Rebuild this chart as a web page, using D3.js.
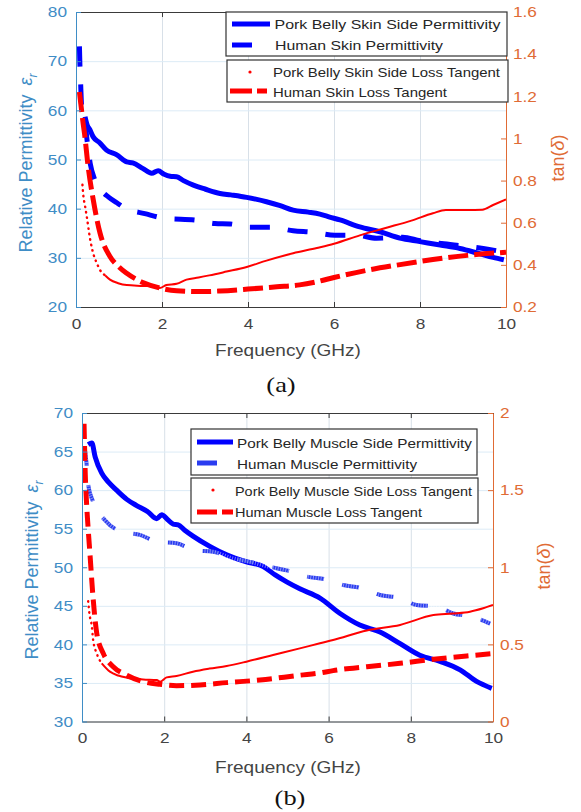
<!DOCTYPE html>
<html>
<head>
<meta charset="utf-8">
<script src="https://cdn.jsdelivr.net/npm/d3@7"></script>
<style>
  body { margin: 0; background: #fff; }
  svg { display: block; }
  text { font-family: "Liberation Sans", Arial, sans-serif; }
</style>
</head>
<body>
<script>
// ---- data ----
const xTicks = [0, 2, 4, 6, 8, 10];

const skinPermTicks = [20, 30, 40, 50, 60, 70, 80];
const skinTanTicks = [0.2, 0.4, 0.6, 0.8, 1, 1.2, 1.4, 1.6];
const muscPermTicks = [30, 35, 40, 45, 50, 55, 60, 65, 70];
const muscTanTicks = [0, 0.5, 1, 1.5, 2];

const skinLegend = ["Pork Belly Skin Side Permittivity", "Human Skin Permittivity",
                    "Pork Belly Skin Side Loss Tangent", "Human Skin Loss Tangent"];
const muscLegend = ["Pork Belly Muscle Side Permittivity", "Human Muscle Permittivity",
                    "Pork Belly Muscle Side Loss Tangent", "Human Muscle Loss Tangent"];

// (a) skin
const skinPorkPerm = [[0.21,58.7],[0.26,57.0],[0.32,56.1],[0.4,54.6],[0.55,53.4],[0.71,51.9],[0.94,51.0],
  [1.18,49.5],[1.32,49.3],[1.55,48.2],[1.76,47.2],[1.91,47.7],[2.05,47.0],[2.19,46.6],[2.34,46.5],[2.5,45.7],
  [2.73,44.8],[3.0,44.0],[3.35,43.1],[3.6,42.8],[3.97,42.3],[4.43,41.4],[4.75,40.6],[5.05,39.7],[5.4,39.3],
  [5.67,38.9],[5.9,38.3],[6.14,37.7],[6.6,36.3],[7.07,35.3],[7.53,34.0],[8.0,33.3],[8.47,32.6],[8.93,31.9],
  [9.4,30.8],[9.7,30.1],[9.95,29.6]];
const skinHumanPerm = [[0.08,73],[0.09,69.5],[0.11,65],[0.13,61],[0.2,58.5],[0.26,53.7],[0.33,49.2],[0.44,45.8],
  [0.6,43.6],[0.75,42.4],[0.95,41.2],[1.14,40.1],[1.6,39.0],[2.1,38.0],[2.77,37.7],[3.23,37.0],[3.58,36.9],
  [4.05,36.2],[4.55,36.2],[5.05,35.5],[5.5,35.2],[6.02,34.6],[6.52,34.6],[6.99,34.0],[7.6,34.2],[8.0,33.5],
  [8.5,32.9],[9.0,32.4],[9.47,31.9],[9.94,31.2]];
const skinPorkTan = [[0.15,0.78],[0.17,0.73],[0.21,0.68],[0.25,0.63],[0.33,0.52],[0.4,0.455],[0.48,0.41],
  [0.56,0.375],[0.68,0.35],[0.79,0.33],[0.98,0.313],[1.18,0.304],[1.57,0.30],[1.8,0.297],[1.95,0.29],[2.1,0.304],
  [2.34,0.31],[2.57,0.33],[2.85,0.34],[3.1,0.35],[3.5,0.368],[3.97,0.39],[4.43,0.42],[5.05,0.455],[5.6,0.48],
  [6.0,0.50],[6.6,0.54],[7.2,0.575],[7.8,0.61],[8.3,0.645],[8.6,0.66],[9.1,0.66],[9.45,0.662],[9.7,0.684],[10,0.71]];
const skinHumanTan = [[0.08,1.22],[0.12,1.15],[0.16,1.08],[0.2,1.02],[0.28,0.87],[0.4,0.71],[0.56,0.55],
  [0.79,0.44],[1.0,0.39],[1.18,0.36],[1.57,0.315],[1.95,0.29],[2.34,0.277],[2.9,0.273],[3.35,0.276],[4.0,0.285],
  [4.67,0.296],[5.2,0.305],[5.6,0.32],[6.0,0.34],[6.76,0.374],[7.5,0.40],[8.3,0.425],[9.1,0.445],[10,0.46]];

// (b) muscle
const muscPorkPerm = [[0.15,65.9],[0.24,66.1],[0.32,64.3],[0.48,62.2],[0.65,61.0],[0.84,60.0],[1.09,58.8],
  [1.33,58.0],[1.6,57.2],[1.82,56.3],[1.94,56.8],[2.08,56.2],[2.22,55.6],[2.34,55.5],[2.5,54.8],[2.71,54.0],
  [3.11,52.7],[3.52,51.6],[4.0,50.7],[4.41,50.1],[4.7,49.0],[4.98,48.1],[5.3,47.2],[5.79,46.0],[6.28,44.0],
  [6.76,42.5],[7.25,41.6],[7.74,40.1],[8.22,38.6],[8.71,37.8],[9.2,36.7],[9.6,35.2],[9.97,34.3]];
const muscHumanPerm = [[0.07,65.3],[0.11,63.5],[0.15,60.7],[0.27,58.5],[0.56,56.1],[0.97,54.6],[1.41,54.2],
  [1.82,53.3],[2.3,53.1],[2.75,52.2],[3.19,52.0],[3.64,51.2],[4.09,50.7],[4.53,50.1],[4.98,49.6],[5.47,48.8],
  [5.95,48.4],[6.36,47.7],[6.8,47.3],[7.25,46.4],[7.74,46.0],[8.14,45.1],[8.63,44.9],[9.03,44.0],[9.48,43.6],
  [9.93,42.7]];
const muscPorkTan = [[0.15,0.78],[0.18,0.70],[0.24,0.615],[0.27,0.53],[0.36,0.44],[0.48,0.377],[0.68,0.323],
  [0.88,0.298],[1.09,0.284],[1.49,0.273],[1.82,0.269],[1.9,0.258],[2.06,0.286],[2.3,0.295],[2.7,0.323],
  [3.1,0.343],[3.52,0.36],[4.0,0.388],[4.65,0.431],[5.3,0.474],[5.79,0.507],[6.11,0.528],[6.93,0.59],
  [7.74,0.626],[8.55,0.69],[9.03,0.70],[9.44,0.712],[9.76,0.734],[10,0.755]];
const muscHumanTan = [[0.05,1.93],[0.08,1.6],[0.11,1.42],[0.15,1.25],[0.19,1.1],[0.27,0.8],[0.36,0.57],
  [0.52,0.44],[0.76,0.355],[1.09,0.30],[1.49,0.258],[1.9,0.241],[2.3,0.232],[2.87,0.237],[3.52,0.252],
  [4.33,0.269],[5.3,0.30],[5.8,0.315],[6.11,0.33],[6.93,0.355],[7.74,0.377],[8.55,0.403],[9.36,0.425],[10,0.44]];

// ---- drawing ----
const BLUE_AX = "#3f8dc6", ORANGE_AX = "#e06b35", DARK = "#3a3a3a";

const svg = d3.select("body").append("svg").attr("width", 581).attr("height", 812);

// widen text horizontally about its x anchor (the picture's text is wide)
function stretch(sel, s) {
  sel.attr("transform", function () {
    const x = +this.getAttribute("x") || 0;
    return `translate(${x},0) scale(${s},1) translate(${-x},0)`;
  });
}

function drawPanel(p) {
  const x = d3.scaleLinear().domain([0, 10]).range([p.left, p.right]);
  const yL = d3.scaleLinear().domain(d3.extent(p.permTicks)).range([p.bottom, p.top]);
  const yR = d3.scaleLinear().domain(d3.extent(p.tanTicks)).range([p.bottom, p.top]);
  const h = p.bottom - p.top, w = p.right - p.left;
  const g = svg.append("g");

  // grid
  g.append("g").attr("transform", `translate(0,${p.bottom})`)
    .call(d3.axisBottom(x).tickValues(xTicks).tickSize(-h).tickFormat(""))
    .call(a => { a.select(".domain").remove(); a.selectAll("line").attr("stroke", "#d8e0e8"); });
  g.append("g").attr("transform", `translate(${p.left},0)`)
    .call(d3.axisLeft(yL).tickValues(p.permTicks).tickSize(-w).tickFormat(""))
    .call(a => { a.select(".domain").remove(); a.selectAll("line").attr("stroke", "#dcebf6"); });

  svg.append("clipPath").attr("id", "clip" + p.id).append("rect")
    .attr("x", p.left).attr("y", p.top).attr("width", w).attr("height", h);
  const plot = g.append("g").attr("clip-path", `url(#clip${p.id})`);

  const lineL = d3.line().x(d => x(d[0])).y(d => yL(d[1])).curve(d3.curveMonotoneX);
  const lineR = d3.line().x(d => x(d[0])).y(d => yR(d[1])).curve(d3.curveMonotoneX);

  plot.append("path").datum(p.porkPerm).attr("d", lineL)
    .attr("fill", "none").attr("stroke", "#0000ff").attr("stroke-width", 5).attr("stroke-linejoin", "round");
  plot.append("path").datum(p.humanPerm).attr("d", lineL)
    .attr("fill", "none").attr("stroke", p.humanPermColor).attr("stroke-width", p.humanPermWidth)
    .attr("stroke-dasharray", p.humanPermDash);
  if (p.hatch) {
    // the muscle dashes look hatched in the picture
    plot.append("path").datum(p.humanPerm).attr("d", lineL)
      .attr("fill", "none").attr("stroke", "#fff").attr("stroke-width", p.humanPermWidth)
      .attr("stroke-dasharray", "1,1.6").attr("opacity", 0.45);
  }

  const dotted = p.porkTan.filter(d => d[0] <= p.dotEnd);
  const solid = p.porkTan.slice(dotted.length - 1);
  plot.append("path").datum(dotted).attr("d", lineR)
    .attr("fill", "none").attr("stroke", "#ff0000").attr("stroke-width", 2.4)
    .attr("stroke-linecap", "round").attr("stroke-dasharray", "0.5,5");
  plot.append("path").datum(solid).attr("d", lineR)
    .attr("fill", "none").attr("stroke", "#ff0000").attr("stroke-width", 2);
  plot.append("path").datum(p.humanTan).attr("d", lineR)
    .attr("fill", "none").attr("stroke", "#ff0000").attr("stroke-width", 5)
    .attr("stroke-dasharray", p.humanTanDash);

  // axes
  const styleAxis = (a, color) => {
    a.attr("font-family", null).attr("font-size", 15);
    a.select(".domain").attr("stroke", color);
    a.selectAll(".tick line").attr("stroke", color);
    a.selectAll(".tick text").attr("fill", color);
  };
  g.append("g").attr("transform", `translate(0,${p.top})`)
    .call(d3.axisTop(x).tickValues(xTicks).tickSize(-5).tickSizeOuter(0).tickFormat(""))
    .call(a => styleAxis(a, DARK));
  g.append("g").attr("transform", `translate(0,${p.bottom})`)
    .call(d3.axisBottom(x).tickValues(xTicks).tickSize(-5).tickSizeOuter(0).tickPadding(11))
    .call(a => { styleAxis(a, DARK); a.selectAll(".tick text").attr("fill", "#444").call(stretch, 1.15); });
  g.append("g").attr("transform", `translate(${p.left},0)`)
    .call(d3.axisLeft(yL).tickValues(p.permTicks).tickSize(-5).tickSizeOuter(0).tickPadding(9))
    .call(a => { styleAxis(a, BLUE_AX); a.selectAll(".tick text").call(stretch, 1.15); });
  g.append("g").attr("transform", `translate(${p.right},0)`)
    .call(d3.axisRight(yR).tickValues(p.tanTicks).tickSize(-5).tickSizeOuter(0).tickPadding(7)
      .tickFormat(d3.format("~g")))
    .call(a => { styleAxis(a, ORANGE_AX); a.selectAll(".tick text").call(stretch, 1.15); });

  // axis titles
  g.append("text").attr("x", p.xlab[0]).attr("y", p.xlab[1]).attr("text-anchor", "middle")
    .attr("font-size", 17).attr("fill", "#444").text("Frequency (GHz)").call(stretch, 1.12);

  const yl = g.append("text").attr("transform", `translate(${p.ylab[0]},${p.ylab[1]}) rotate(-90)`)
    .attr("text-anchor", "middle").attr("font-size", 18).attr("fill", BLUE_AX);
  yl.append("tspan").text("Relative Permittivity");
  yl.append("tspan").attr("dx", 9).attr("font-style", "italic").text("ε");
  yl.append("tspan").attr("dy", 5).attr("font-size", 12).attr("font-style", "italic").text("r");

  const yr = g.append("text").attr("transform", `translate(${p.rlab[0]},${p.rlab[1]}) rotate(-90)`)
    .attr("text-anchor", "middle").attr("font-size", 18).attr("fill", ORANGE_AX);
  yr.append("tspan").text("tan(");
  yr.append("tspan").attr("font-style", "italic").text("δ");
  yr.append("tspan").text(")");

  g.append("text").attr("x", p.cap[0]).attr("y", p.cap[1]).attr("text-anchor", "middle")
    .style("font-family", "'Liberation Serif', 'Times New Roman', serif").attr("font-size", 22)
    .attr("fill", "#111").text(p.capText).call(stretch, 1.2);

  // legends
  const L = p.legend;
  const lg = g.append("g");
  [L.box1, L.box2].forEach(b => {
    lg.append("rect").attr("x", b[0]).attr("y", b[1]).attr("width", b[2]).attr("height", b[3])
      .attr("fill", "#fff").attr("stroke", "#333").attr("stroke-width", 1.2);
  });
  const rows = L.rows;
  lg.append("line").attr("x1", rows[0].s[0]).attr("x2", rows[0].s[1]).attr("y1", rows[0].s[2]).attr("y2", rows[0].s[2])
    .attr("stroke", "#0000ff").attr("stroke-width", 5);
  lg.append("line").attr("x1", rows[1].s[0]).attr("x2", rows[1].s[1]).attr("y1", rows[1].s[2]).attr("y2", rows[1].s[2])
    .attr("stroke", p.humanPermColor).attr("stroke-width", 5);
  lg.append("circle").attr("cx", rows[2].s[0]).attr("cy", rows[2].s[2]).attr("r", 1.6).attr("fill", "#ff0000");
  lg.append("line").attr("x1", rows[3].s[0]).attr("x2", rows[3].s[1]).attr("y1", rows[3].s[2]).attr("y2", rows[3].s[2])
    .attr("stroke", "#ff0000").attr("stroke-width", 5).attr("stroke-dasharray", L.redDash);
  rows.forEach((r, i) => {
    lg.append("text").attr("x", r.t[0]).attr("y", r.t[1]).attr("font-size", 13).attr("fill", "#262626")
      .attr("textLength", r.t[2]).attr("lengthAdjust", "spacingAndGlyphs")
      .text(p.legendText[i]);
  });
}

drawPanel({
  id: "a", left: 76, right: 506, top: 12, bottom: 307,
  permTicks: skinPermTicks, tanTicks: skinTanTicks,
  porkPerm: skinPorkPerm, humanPerm: skinHumanPerm, porkTan: skinPorkTan, humanTan: skinHumanTan,
  humanPermColor: "#0000ff", humanPermWidth: 5, humanPermDash: "20,18", humanTanDash: "20,6", dotEnd: 0.7,
  hatch: false,
  xlab: [288, 356], ylab: [32, 163], rlab: [564, 158], cap: [281, 392], capText: "(a)",
  legendText: skinLegend,
  legend: {
    box1: [226, 12, 281, 44], box2: [227, 60, 281, 42], redDash: "22,5",
    rows: [
      { s: [232, 270, 24], t: [274.5, 29, 226] },
      { s: [232, 252, 45], t: [275, 50, 168] },
      { s: [250, 250, 72], t: [273, 77, 227] },
      { s: [230, 267, 91], t: [273, 96.5, 174] }
    ]
  }
});

drawPanel({
  id: "b", left: 82, right: 493, top: 413, bottom: 721.5,
  permTicks: muscPermTicks, tanTicks: muscTanTicks,
  porkPerm: muscPorkPerm, humanPerm: muscHumanPerm, porkTan: muscPorkTan, humanTan: muscHumanTan,
  humanPermColor: "#2a3cf0", humanPermWidth: 4, humanPermDash: "17,19", humanTanDash: "15,7", dotEnd: 0.6,
  hatch: true,
  xlab: [288, 773], ylab: [38, 570], rlab: [550, 566], cap: [290, 805], capText: "(b)",
  legendText: muscLegend,
  legend: {
    box1: [191, 429, 286, 46], box2: [191, 478, 287, 45], redDash: "20,5",
    rows: [
      { s: [197, 233, 442], t: [237, 448, 235] },
      { s: [197, 217, 463], t: [237, 469, 180] },
      { s: [213, 213, 490], t: [235, 496, 237] },
      { s: [197, 233, 512], t: [235, 517, 187] }
    ]
  }
});
</script>
</body>
</html>
